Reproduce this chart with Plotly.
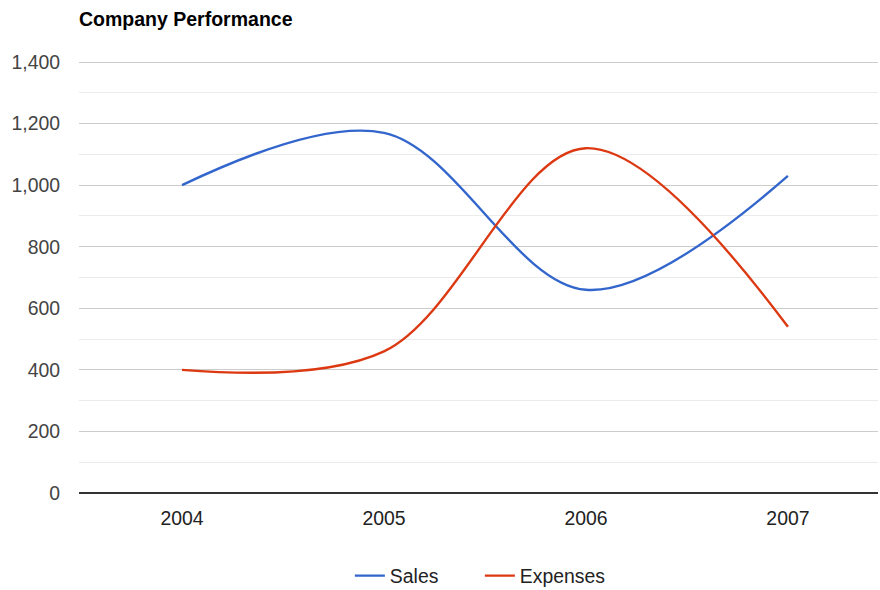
import plotly.graph_objects as go

# Yearly figures for the company
years = ["2004", "2005", "2006", "2007"]
sales = [1000, 1170, 660, 1030]
expenses = [400, 460, 1120, 540]

x_pos = list(range(len(years)))

fig = go.Figure()
fig.add_trace(go.Scatter(
    x=x_pos, y=sales, name="Sales", mode="lines",
    line=dict(color="#3366cc", width=2.4, shape="spline", smoothing=1),
))
fig.add_trace(go.Scatter(
    x=x_pos, y=expenses, name="Expenses", mode="lines",
    line=dict(color="#dc3912", width=2.4, shape="spline", smoothing=1),
))

fig.update_layout(
    width=880, height=590,
    margin=dict(l=79, r=2, t=60, b=97, autoexpand=False),
    paper_bgcolor="white", plot_bgcolor="white",
    font=dict(family="Liberation Sans, Arial, sans-serif", size=19.4, color="#444444"),
    title=dict(text="<b>Company Performance</b>", x=79 / 880, xanchor="left",
               y=1 - 19 / 590, yanchor="middle",
               font=dict(size=19.5, color="#000000")),
    showlegend=True,
    legend=dict(orientation="h", x=0.339, xanchor="left",
                yref="container", y=1 - 576 / 590, yanchor="middle",
                font=dict(size=19.4, color="#222222"),
                entrywidth=85, entrywidthmode="pixels"),
    xaxis=dict(
        range=[-0.51, 3.446], tickmode="array", tickvals=x_pos, ticktext=years,
        showgrid=False, zeroline=False, showline=False, ticks="",
        ticklabelstandoff=12,
        tickfont=dict(size=19.4, color="#222222"), fixedrange=True,
    ),
    yaxis=dict(
        range=[0, 1406.5], tickmode="linear", tick0=0, dtick=200,
        tickformat=",d", showgrid=True, gridcolor="#cccccc", gridwidth=1.2,
        minor=dict(dtick=100, showgrid=True, gridcolor="#ebebeb", gridwidth=1.2),
        zeroline=True, zerolinecolor="#333333", zerolinewidth=2,
        showline=False, ticks="", ticklabelstandoff=18,
        tickfont=dict(size=19.4, color="#444444"), fixedrange=True,
    ),
)

fig.write_html("out.html")
